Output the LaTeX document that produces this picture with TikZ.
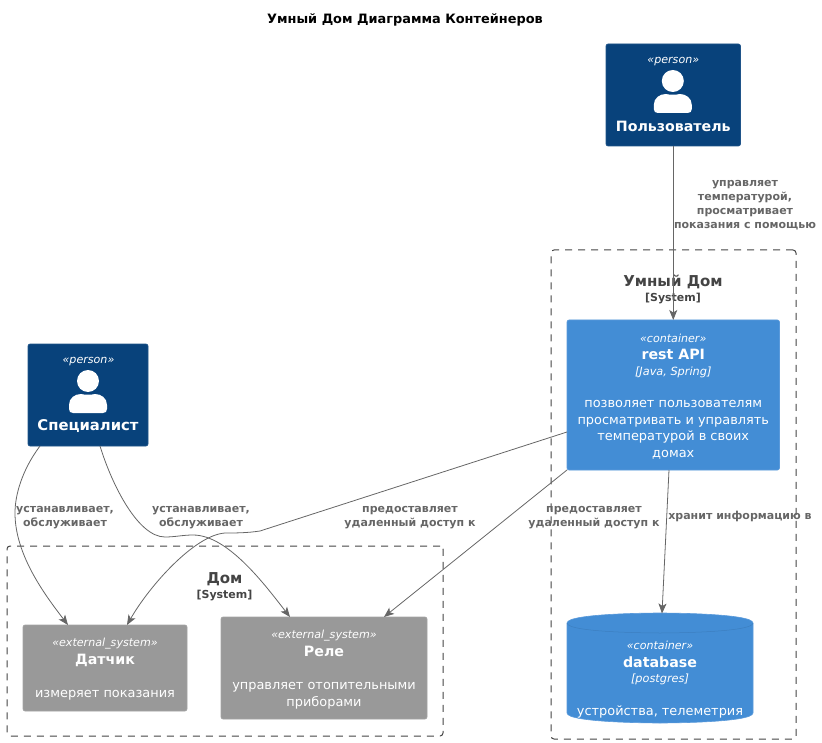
\documentclass[tikz,border=0pt]{standalone}
\usepackage{fontspec}
\setmainfont{DejaVu Sans}
\usetikzlibrary{arrows.meta,calc}
\definecolor{personfill}{HTML}{08427B}
\definecolor{personline}{HTML}{1F5489}
\definecolor{contfill}{HTML}{438DD5}
\definecolor{contline}{HTML}{5A9ADB}
\definecolor{lidline}{HTML}{3C7FC0}
\definecolor{extfill}{HTML}{999999}
\definecolor{extline}{HTML}{A3A3A3}
\definecolor{linkcol}{HTML}{666666}
\definecolor{clustcol}{HTML}{444444}
\newcommand{\stereotxt}[1]{{\fontsize{11.1}{14}\itshape\selectfont #1}}
\newcommand{\nametxt}[1]{{\fontsize{14.2}{18}\bfseries\selectfont #1}}
\newcommand{\clusttxt}[1]{{\fontsize{15}{18}\bfseries\selectfont #1}}
\newcommand{\techtxt}[1]{{\fontsize{11.3}{14}\itshape\selectfont #1}}
\tikzset{
  x=1pt,y=-1pt,
  boxbase/.style={inner sep=0pt,outer sep=0pt,rounded corners=2pt,line width=.6pt,text=white,align=center,
    font=\fontsize{12.9}{16.5}\selectfont},
  personbox/.style={boxbase,draw=personline,fill=personfill},
  contbox/.style={boxbase,draw=contline,fill=contfill},
  extbox/.style={boxbase,draw=extline,fill=extfill},
  dbtext/.style={boxbase,minimum width=186pt,minimum height=109pt},
  cluster/.style={draw=clustcol,line width=1pt,dash pattern=on 7pt off 6pt,rounded corners=3pt,inner sep=0pt,outer sep=0pt},
  clusttitle/.style={text=clustcol,inner sep=0pt,align=center,font=\fontsize{11}{15}\selectfont},
  link/.style={draw=linkcol,line width=.8pt,-{Stealth[length=10pt,width=8pt,inset=2.5pt]}},
  linklabel/.style={text=linkcol,inner sep=0pt,align=center,font=\fontsize{11}{14}\bfseries\selectfont},
}
\newcommand{\personicon}[2]{%
  \fill[white] (#1,#2) circle (11);
  \fill[white] (#1-19,#2+28) .. controls (#1-19,#2+30.5) and (#1-17.5,#2+32) .. (#1-15,#2+32) -- (#1+15,#2+32) .. controls (#1+17.5,#2+32) and (#1+19,#2+30.5) .. (#1+19,#2+28) -- (#1+19,#2+24) .. controls (#1+19,#2+17) and (#1+13,#2+13) .. (#1+7,#2+13) .. controls (#1+3,#2+14) and (#1-3,#2+14) .. (#1-7,#2+13) .. controls (#1-13,#2+13) and (#1-19,#2+17) .. (#1-19,#2+24) -- cycle;
}
\begin{document}
\begin{tikzpicture}
\useasboundingbox (0,0) rectangle (822,743);
\node[inner sep=0pt,font=\fontsize{12.9}{15}\bfseries\selectfont] (title) at (405,19.5) {Умный Дом Диаграмма Контейнеров};

% clusters
\node[cluster,minimum width=245pt,minimum height=489pt] (cSmart) at (673.5,494.5) {};
\node[cluster,minimum width=436pt,minimum height=190pt] (cHome) at (225,641) {};
\node[clusttitle] (cSmartT) at (673,289.5) {\clusttxt{Умный Дом}\\{\bfseries [System]}};
\node[clusttitle] (cHomeT) at (224.5,586.5) {\clusttxt{Дом}\\{\bfseries [System]}};

% persons
\node[personbox,minimum width=134.5pt,minimum height=102pt] (user) at (673.25,95) {};
\personicon{672.8}{81}
\node[inner sep=0pt,text=white] (userS) at (673.3,62) {\stereotxt{«person»}};
\node[inner sep=0pt,text=white] (userN) at (673.3,126) {\nametxt{Пользователь}};

\node[personbox,minimum width=120pt,minimum height=102pt] (spec) at (88,395) {};
\personicon{88}{381}
\node[inner sep=0pt,text=white] (specS) at (88.5,362) {\stereotxt{«person»}};
\node[inner sep=0pt,text=white,font=\fontsize{14.8}{18}\bfseries\selectfont] (specN) at (88,426) {Специалист};

% containers
\node[contbox,minimum width=212.5pt,minimum height=150pt] (rest) at (673.25,395) {};
\node[inner sep=0pt,text=white,align=center,font=\fontsize{12.9}{16.5}\selectfont] (restT) at (673.25,396.5) {\stereotxt{«container»}\\[1pt]\nametxt{rest API}\\[-1pt]\techtxt{[Java, Spring]}\\[16pt]позволяет пользователям\\просматривать и управлять\\температурой в своих\\домах};

\path[draw=contline,fill=contfill,line width=.6pt] (567,623) .. controls (567,613) and (660,613) .. (660,613) .. controls (660,613) and (753,613) .. (753,623) -- (753,713) .. controls (753,723) and (660,723) .. (660,723) .. controls (660,723) and (567,723) .. (567,713) -- cycle;
\draw[lidline,line width=.5pt] (567,623) .. controls (567,633) and (660,633) .. (660,633) .. controls (660,633) and (753,633) .. (753,623);
\node[dbtext] (db) at (660,668) {};
\node[inner sep=0pt,text=white,align=center,font=\fontsize{12.9}{16.5}\selectfont] (dbT) at (660,679.5) {\stereotxt{«container»}\\[1pt]\nametxt{database}\\[-1pt]\techtxt{[postgres]}\\[16pt]устройства, телеметрия};

% external systems
\node[extbox,minimum width=164pt,minimum height=86pt] (sensor) at (105,668) {};
\node[inner sep=0pt,text=white,align=center,font=\fontsize{12.9}{16.5}\selectfont] (sensorT) at (105,669.5) {\stereotxt{«external\_system»}\\[1pt]\nametxt{Датчик}\\[17pt]измеряет показания};
\node[extbox,minimum width=206pt,minimum height=102pt] (relay) at (324,668) {};
\node[inner sep=0pt,text=white,align=center,font=\fontsize{12.9}{16.5}\selectfont] (relayT) at (324,669.5) {\stereotxt{«external\_system»}\\[1pt]\nametxt{Реле}\\[17pt]управляет отопительными\\приборами};

% connectors
\draw[link] (user.south) -- (rest.north);
\draw[link] ([xshift=102pt]rest.south west) -- ([xshift=95pt]db.north west);
\draw[link] ([yshift=38pt]rest.south west) -- (260,531) .. controls (247,533) and (235,533) .. (225,533) .. controls (195,535) and (150,585) .. ([xshift=104pt]sensor.north west);
\draw[link] (rest.south west) -- ([xshift=163pt]relay.north west);
\draw[link] ([xshift=12pt]spec.south west) .. controls (22,470) and (15,495) .. (15,513) .. controls (15,555) and (45,595) .. ([xshift=45pt]sensor.north west);
\draw[link] ([xshift=72pt]spec.south west) .. controls (112,485) and (138,537) .. (165,537) .. controls (175,537) and (183,535) .. (193,535) .. controls (228,535) and (265,585) .. ([xshift=69pt]relay.north west);

% connector labels
\node[linklabel] (l1) at (745,205.5) {управляет\\температурой,\\просматривает\\показания с помощью};
\node[linklabel] (l2) at (740,516.5) {хранит информацию в};
\node[linklabel] (l3) at (594,518) {предоставляет\\удаленный доступ к};
\node[linklabel] (l4) at (410,518) {предоставляет\\удаленный доступ к};
\node[linklabel] (l5) at (65,518) {устанавливает,\\обслуживает};
\node[linklabel] (l6) at (201,518) {устанавливает,\\обслуживает};
\end{tikzpicture}
\end{document}
